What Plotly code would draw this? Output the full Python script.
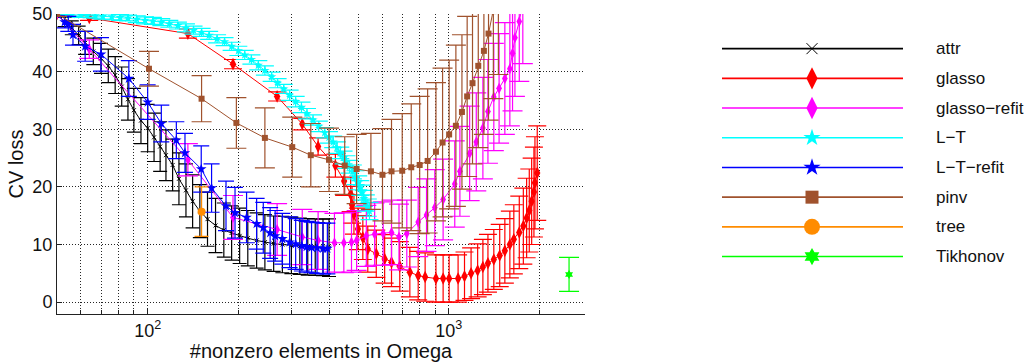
import math
import plotly.graph_objects as go

FONT = "Liberation Sans, Arial, Helvetica, sans-serif"

# ---------------- data ----------------
attr_x = [50, 53, 56, 59, 62, 66, 70, 74, 78, 82, 86, 90, 95, 100, 105, 110, 115, 121, 127, 134,
          141, 149, 158, 168, 179, 190, 202, 215, 230, 245, 262, 280, 300, 320, 340, 360, 382, 400]
attr_y = [50.0, 48.6, 47.6, 46.3, 45.0, 43.5, 42.3, 41.0, 39.4, 37.4, 35.2, 33.3, 31.5, 30.2, 28.6,
          27.0, 25.5, 23.8, 21.4, 19.4, 17.5, 15.8, 14.4, 13.3, 12.5, 12.0, 11.5, 11.1, 10.7, 10.4,
          10.15, 10.0, 9.85, 9.7, 9.6, 9.55, 9.5, 9.45]
attr_e = [0.3, 0.8, 1.2, 1.6, 2.0, 2.3, 2.6, 2.9, 3.2, 3.4, 3.6, 3.8, 4.0, 4.1, 4.2, 4.3, 4.4, 4.5,
          4.5, 4.6, 4.6, 4.6, 4.7, 4.7, 4.7, 4.7, 4.8, 4.8, 4.8, 4.8, 4.8, 4.9, 4.9, 4.9, 4.9, 4.9,
          4.9, 5.0]

glasso_x = [50, 64, 136, 192, 269, 326, 368, 420, 449, 472, 477, 484, 499, 518, 538, 574, 612, 645,
            687, 742, 791, 834, 906, 957, 1002, 1073, 1127, 1185, 1246, 1297, 1348, 1410, 1475,
            1534, 1594, 1643, 1713, 1767, 1812, 1849, 1883, 1916, 1931, 1965]
glasso_y = [50.0, 49.3, 46.6, 41.3, 35.7, 30.9, 27.0, 23.7, 21.0, 18.7, 16.9, 15.2, 12.7, 11.2, 9.2,
            8.4, 7.5, 6.9, 6.2, 5.2, 4.6, 4.35, 4.1, 4.1, 4.1, 4.1, 4.5, 5.0, 5.5, 6.1, 6.75, 7.4,
            8.1, 8.9, 10.0, 10.9, 12.1, 13.2, 14.6, 15.9, 17.5, 19.1, 20.7, 22.4]
glasso_e = [0.3, 0.4, 0.8, 0.8, 0.8, 1.0, 1.5, 2.0, 2.5, 3.0, 3.2, 3.4, 3.6, 3.8, 4.0, 4.1, 4.2, 4.2,
            4.3, 4.3, 4.2, 4.2, 4.1, 4.1, 4.1, 4.1, 4.2, 4.4, 4.6, 4.8, 5.0, 5.2, 5.4, 5.6, 5.8,
            6.0, 6.3, 6.6, 6.9, 7.2, 7.5, 7.8, 8.0, 8.2]

grefit_x = [50, 64, 136, 192, 269, 326, 368, 417, 448, 475, 494, 532, 567, 605, 645, 683, 725, 791,
            843, 898, 957, 1046, 1088, 1172, 1233, 1297, 1348, 1410, 1468, 1534, 1594, 1627, 1657,
            1713, 1760]
grefit_y = [50.0, 43.9, 24.7, 14.7, 12.6, 11.3, 10.7, 10.3, 10.3, 10.4, 10.7, 11.5, 11.8, 11.9, 12.1,
            11.3, 11.9, 13.9, 15.1, 16.4, 17.8, 20.5, 22.7, 25.8, 27.8, 30.2, 33.1, 35.6, 37.1,
            38.8, 40.5, 43.2, 45.9, 48.7, 52.0]
grefit_e = [0.3, 1.6, 2.8, 3.8, 4.5, 4.8, 5.0, 5.1, 5.2, 5.2, 5.2, 5.3, 5.4, 5.5, 5.6, 5.7, 5.8, 6.0,
            6.3, 6.6, 7.0, 7.5, 7.8, 8.2, 8.5, 8.8, 9.0, 9.3, 9.5, 9.7, 9.9, 10.0, 10.2, 10.4, 10.6]

lt_x = [50, 53, 56, 60, 63, 67, 71, 76, 81, 86, 92, 98, 104, 111, 118, 126, 134, 142, 151, 160,
        170, 180, 190, 200, 210, 221, 233, 245, 258, 270, 283, 296, 310, 324, 338, 354, 370, 387,
        400, 413, 425, 436, 447, 457, 468, 480, 490, 500, 508, 515, 522, 530, 538, 545]
lt_y = [50.0, 49.95, 49.9, 49.8, 49.8, 49.7, 49.6, 49.5, 49.4, 49.3, 49.1, 48.9, 48.8, 48.6, 48.3,
        48.0, 47.6, 47.2, 46.8, 46.3, 45.7, 45.2, 44.4, 43.6, 42.9, 42.1, 41.1, 40.2, 39.1, 38.0,
        37.0, 35.9, 34.8, 33.8, 32.7, 31.6, 30.5, 29.4, 28.6, 27.8, 26.8, 25.9, 25.1, 24.3, 23.5,
        22.6, 21.6, 20.7, 19.8, 19.0, 18.0, 17.2, 16.4, 15.8]
lt_e = [0.2, 0.3, 0.3, 0.4, 0.4, 0.4, 0.5, 0.5, 0.5, 0.5, 0.6, 0.6, 0.6, 0.6, 0.6, 0.6, 0.7, 0.7,
        0.7, 0.7, 0.7, 0.7, 0.7, 0.8, 0.8, 0.8, 0.8, 0.8, 0.8, 0.8, 0.8, 0.9, 0.9, 0.9, 0.9, 0.9,
        0.9, 0.9, 1.0, 1.0, 1.0, 1.0, 1.1, 1.1, 1.1, 1.2, 1.2, 1.2, 1.3, 1.3, 1.4, 1.4, 1.5, 1.5]

ltrefit_x = [50, 53, 54.5, 56.5, 62, 70, 86.6, 100, 111, 124.5, 133, 150.6, 163, 182, 195, 213, 230,
             242, 255, 265, 280, 296, 310, 325, 337, 350, 365, 382, 395]
ltrefit_y = [50.0, 48.6, 48.3, 46.4, 44.4, 43.0, 38.8, 34.7, 31.0, 28.1, 25.9, 23.1, 19.8, 16.7, 15.5,
             14.7, 13.6, 12.9, 12.0, 11.5, 11.0, 10.4, 10.1, 9.8, 9.6, 9.5, 9.4, 9.3, 9.3]
ltrefit_e = [0.3, 1.0, 1.3, 1.8, 2.6, 2.9, 3.1, 3.0, 3.2, 3.2, 3.4, 4.0, 4.2, 4.3, 4.4, 4.4, 4.4,
             4.4, 4.4, 4.4, 4.4, 4.4, 4.4, 4.4, 4.4, 4.4, 4.4, 4.4, 4.4]

pinv_x = [50, 101, 151, 197, 245, 302, 348, 400, 451, 494, 551, 602, 645, 700, 750, 800, 850, 906,
          953, 1002, 1055, 1105, 1150, 1198, 1252, 1307, 1354, 1405, 1460]
pinv_y = [50.0, 40.5, 35.3, 31.1, 28.5, 26.9, 25.5, 24.7, 23.7, 23.1, 22.7, 22.1, 22.7, 22.8, 23.4,
          23.8, 24.5, 26.1, 27.7, 29.1, 30.6, 33.0, 35.7, 38.0, 41.0, 43.6, 46.6, 50.5, 55.0]
pinv_e = [0.4, 3.0, 4.0, 4.4, 5.2, 5.2, 5.5, 5.5, 5.0, 6.0, 6.6, 8.0, 9.0, 9.9, 11.0, 11.9, 12.5,
          12.0, 12.9, 12.9, 14.0, 13.4, 13.9, 14.0, 14.2, 14.5, 15.0, 15.2, 15.5]

tree_x = [151]
tree_y = [15.7]
tree_e = [4.3]

tikhonov_x = [2506]
tikhonov_y = [4.8]
tikhonov_e = [2.95]

names = ["attr", "glasso", "glasso\u2212refit", "L\u2212T", "L\u2212T\u2212refit", "pinv", "tree", "Tikhonov"]
colors = ["#000000", "#ff0000", "#ff00ff", "#00ffff", "#0000ff", "#a0522d", "#ff8c00", "#00ff00"]

y_ticks = [0, 10, 20, 30, 40, 50]
x_ticks = [100, 1000]
x_ticktext = ["10<sup>2</sup>", "10<sup>3</sup>"]
x_minor = [60, 70, 80, 90, 200, 300, 400, 500, 600, 700, 800, 900, 2000]

# ---------------- styles ----------------
xs = [attr_x, glasso_x, grefit_x, lt_x, ltrefit_x, pinv_x, tree_x, tikhonov_x]
ys = [attr_y, glasso_y, grefit_y, lt_y, ltrefit_y, pinv_y, tree_y, tikhonov_y]
es = [attr_e, glasso_e, grefit_e, lt_e, ltrefit_e, pinv_e, tree_e, tikhonov_e]
symbols = ["x-thin", "diamond-tall", "diamond-tall", "star", "star", "square", "circle", "hexagram"]
msizes = [4, 9, 8, 7, 8, 6, 8, 7]
caps = [7, 9, 10, 9, 8, 10, 7, 10]
leg_symbols = ["x-thin-open", "diamond-tall", "diamond-tall", "star", "star", "square", "circle", "hexagram"]
leg_sizes = [11, 16, 16, 13, 13, 13, 16, 13]

W, H = 1028, 362
ML, MR, MT, MB = 57, 4, 11, 48
PLOT_RIGHT = 585
LEG_LEFT = 700
PAPER_W = W - ML - MR
dom_right = (PLOT_RIGHT - ML) / PAPER_W
leg_dom_left = (LEG_LEFT - ML) / PAPER_W

fig = go.Figure()

for i in range(len(names)):
    marker = dict(symbol=symbols[i], size=msizes[i], color=colors[i],
                  line=dict(width=1 if symbols[i] == "x-thin" else 0, color=colors[i]))
    fig.add_trace(go.Scatter(
        x=xs[i], y=ys[i], mode="lines+markers", name=names[i],
        line=dict(color=colors[i], width=1),
        marker=marker,
        error_y=dict(type="data", array=es[i], visible=True, color=colors[i],
                     thickness=1.2, width=caps[i]),
        xaxis="x", yaxis="y", showlegend=False,
    ))

# ---------------- hand-made legend (line samples, markers, labels) ----------------
LEG_X0, LEG_X1, LEG_XM, LEG_TX = 722, 903, 812, 934
LEG_Y0, LEG_DY = 46, 30
for i in range(len(names)):
    ry = LEG_Y0 + LEG_DY * i
    fig.add_trace(go.Scatter(
        x=[LEG_X0, LEG_X1], y=[ry, ry], mode="lines",
        line=dict(color=colors[i], width=1.6),
        xaxis="x2", yaxis="y2", showlegend=False, hoverinfo="skip"))
    lm = dict(symbol=leg_symbols[i], size=leg_sizes[i], color=colors[i],
              line=dict(width=1 if leg_symbols[i].startswith("x") else 0, color=colors[i]))
    fig.add_trace(go.Scatter(
        x=[LEG_XM], y=[ry], mode="markers", marker=lm,
        xaxis="x2", yaxis="y2", showlegend=False, hoverinfo="skip"))
    fig.add_annotation(x=LEG_TX, y=ry, xref="x2", yref="y2", text=names[i],
                       showarrow=False, xanchor="left", yanchor="middle",
                       font=dict(family=FONT, size=17, color="#111111"))

grid_col = "rgba(0,0,0,0.85)"
fig.update_layout(
    width=W, height=H,
    margin=dict(l=ML, r=MR, t=MT, b=MB, pad=0),
    paper_bgcolor="white", plot_bgcolor="rgba(0,0,0,0)",
    showlegend=False,
    font=dict(family=FONT, size=18, color="#111111"),
    xaxis=dict(
        type="log", domain=[0, dom_right], anchor="y",
        range=[math.log10(50), math.log10(2831)],
        showline=True, linecolor="#222", linewidth=1, mirror=False,
        ticks="inside", ticklen=5, tickcolor="#222",
        tickvals=x_ticks, ticktext=x_ticktext,
        tickfont=dict(family=FONT, size=18, color="#111111"),
        showgrid=True, gridcolor=grid_col, gridwidth=1, griddash="1px,2px",
        minor=dict(tickvals=x_minor, ticks="inside", ticklen=4, tickcolor="#222",
                   showgrid=True, gridcolor=grid_col, gridwidth=1, griddash="1px,2px"),
        zeroline=False,
        title=dict(text="#nonzero elements in Omega", standoff=3,
                   font=dict(family=FONT, size=20, color="#111111")),
    ),
    yaxis=dict(
        domain=[0, 1], anchor="x",
        range=[-2.06, 50],
        showline=True, linecolor="#222", linewidth=1, mirror=False,
        ticks="inside", ticklen=5, tickcolor="#222",
        tickvals=y_ticks,
        tickfont=dict(family=FONT, size=18, color="#111111"),
        showgrid=True, gridcolor=grid_col, gridwidth=1, griddash="1px,2px",
        zeroline=False,
        title=dict(text="CV loss", standoff=3,
                   font=dict(family=FONT, size=20, color="#111111")),
    ),
    xaxis2=dict(domain=[leg_dom_left, 1], anchor="y2", range=[LEG_LEFT, W - MR],
                visible=False, fixedrange=True),
    yaxis2=dict(domain=[0, 1], anchor="x2", range=[H - MB, MT], visible=False, fixedrange=True),
)

fig.write_html("out.html", config={"displayModeBar": False},
               post_script="document.body.style.margin='0';")
